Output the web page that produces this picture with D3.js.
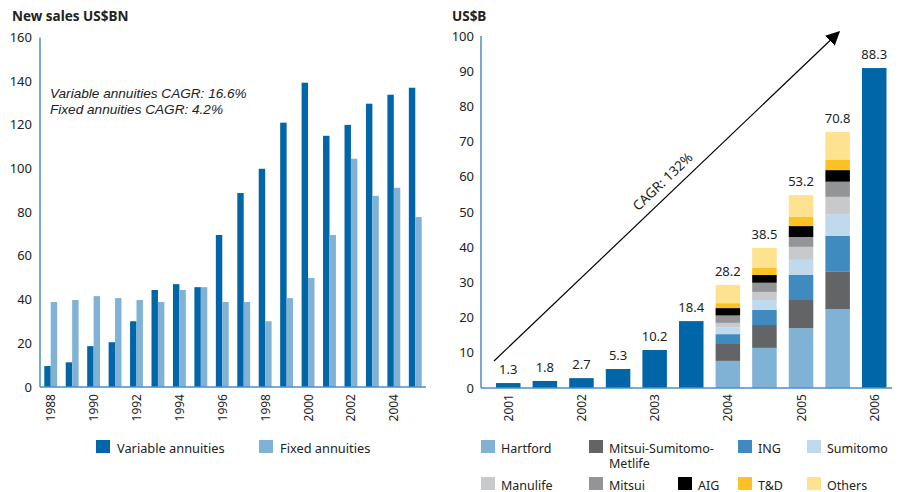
<!DOCTYPE html>
<html>
<head>
<script src="https://cdnjs.cloudflare.com/ajax/libs/d3/7.8.5/d3.min.js"></script>
<style>
  body { margin: 0; background: #fff; }
  text { font-family: "Noto Sans", "Open Sans", sans-serif; fill: #222; }
  text.note { font-family: "Liberation Sans", Arial, sans-serif; font-style: italic; }
</style>
</head>
<body>
<div id="chart"></div>
<script>
// ---- left chart data (US$BN) ----
const years = d3.range(1988, 2006).map(String);
const variableSales = [9.6, 11.3, 18.7, 20.5, 30.1, 44.4, 47.1, 45.7, 69.6, 88.8, 99.9, 121, 139.3, 115, 120, 129.7, 133.8, 137];
const fixedSales = [38.9, 39.8, 41.6, 40.7, 39.8, 38.9, 44.4, 45.7, 38.9, 38.9, 30.1, 40.7, 49.9, 69.6, 104.5, 87.5, 91.2, 77.8];
const leftTicks = [0, 20, 40, 60, 80, 100, 120, 140, 160];

// ---- right chart data (US$B), half-year periods ----
const periods = ["2001", "2001H2", "2002", "2002H2", "2003", "2003H2", "2004", "2004H2", "2005", "2005H2", "2006"];
const periodLabels = ["2001", "", "2002", "", "2003", "", "2004", "", "2005", "", "2006"];
const totals = [1.4, 2.0, 2.8, 5.4, 10.8, 19.0, null, null, null, null, 90.9];
const totalLabels = ["1.3", "1.8", "2.7", "5.3", "10.2", "18.4", "28.2", "38.5", "53.2", "70.8", "88.3"];
const companies = ["Hartford", "Mitsui-Sumitomo-Metlife", "ING", "Sumitomo", "Manulife", "Mitsui", "AIG", "T&D", "Others"];
const companyColors = ["#7fb2d5", "#636466", "#3f8bbf", "#c0d9ec", "#c8c9cb", "#929497", "#000000", "#fcc125", "#fde28f"];
// segments per stacked period, in company order
const stackPeriods = ["2004", "2004H2", "2005", "2005H2"];
const hartford = [7.7, 11.4, 17.0, 22.4];
const msm = [4.8, 6.5, 8.0, 10.6];
const ing = [2.8, 4.3, 7.1, 10.2];
const sumitomo = [1.9, 2.8, 4.3, 6.2];
const manulife = [1.3, 2.3, 3.7, 4.9];
const mitsui = [2.1, 2.6, 2.8, 4.3];
const aig = [2.1, 2.2, 3.1, 3.3];
const td = [1.4, 2.0, 2.6, 2.9];
const others = [5.2, 5.7, 6.2, 7.9];
const rightTicks = [0, 10, 20, 30, 40, 50, 60, 70, 80, 90, 100];

const dark = "#0066a8", light = "#7fb2d5", axisColor = "#4b8fc6";

const svg = d3.select("#chart").append("svg")
  .attr("width", 902).attr("height", 492);

// ================= LEFT CHART =================
const lx = d3.scaleBand().domain(years).range([40, 426]).paddingInner(0.4).paddingOuter(0.2);
const ly = d3.scaleLinear().domain([0, 160]).range([387, 37.5]);
const left = svg.append("g");

left.append("text").attr("x", 12).attr("y", 21)
  .attr("font-size", 13.5).attr("font-weight", "bold").text("New sales US$BN");

left.selectAll(".ytick").data(leftTicks).join("text")
  .attr("x", 32).attr("y", d => ly(d) + 4.5)
  .attr("text-anchor", "end").attr("font-size", 13).text(d => d);

const pairW = lx.bandwidth() / 2;
left.selectAll(".var").data(years).join("rect")
  .attr("x", d => lx(d)).attr("width", pairW)
  .attr("y", (d, i) => ly(variableSales[i]))
  .attr("height", (d, i) => ly(0) - ly(variableSales[i]))
  .attr("fill", dark);
left.selectAll(".fix").data(years).join("rect")
  .attr("x", d => lx(d) + pairW).attr("width", pairW)
  .attr("y", (d, i) => ly(fixedSales[i]))
  .attr("height", (d, i) => ly(0) - ly(fixedSales[i]))
  .attr("fill", light);

left.append("line").attr("x1", 40).attr("x2", 40).attr("y1", 37.5).attr("y2", 387)
  .attr("stroke", axisColor).attr("stroke-width", 1.5);
left.append("line").attr("x1", 40).attr("x2", 426).attr("y1", 387).attr("y2", 387)
  .attr("stroke", axisColor).attr("stroke-width", 1.5);

left.selectAll(".xl").data(years.filter((d, i) => i % 2 === 0)).join("text")
  .attr("transform", d => `translate(${lx(d) + lx.bandwidth() / 2 + 4.5},394) rotate(-90)`)
  .attr("text-anchor", "end").attr("font-size", 12).text(d => d);

left.append("text").attr("class", "note").attr("x", 50).attr("y", 97.5).attr("font-size", 13.6)
  .text("Variable annuities CAGR: 16.6%");
left.append("text").attr("class", "note").attr("x", 50).attr("y", 113.5).attr("font-size", 13.6)
  .text("Fixed annuities CAGR: 4.2%");

// left legend
[["Variable annuities", dark, 96], ["Fixed annuities", light, 259]].forEach(([t, c, x]) => {
  left.append("rect").attr("x", x).attr("y", 440).attr("width", 14).attr("height", 13).attr("fill", c);
  left.append("text").attr("x", x + 21).attr("y", 452.5).attr("font-size", 12.8).text(t);
});

// ================= RIGHT CHART =================
const rx = d3.scaleBand().domain(periods).range([481, 901.5]).paddingInner(0.33).paddingOuter(0.41);
const ry = d3.scaleLinear().domain([0, 100]).range([388, 36]);
const right = svg.append("g");

right.append("text").attr("x", 452).attr("y", 21)
  .attr("font-size", 13.5).attr("font-weight", "bold").text("US$B");

right.selectAll(".ytick").data(rightTicks).join("text")
  .attr("x", 474).attr("y", d => ry(d) + 4.5)
  .attr("text-anchor", "end").attr("font-size", 13).text(d => d);

// single bars
const singles = periods.map((p, i) => ({ p, v: totals[i] })).filter(d => d.v !== null);
right.selectAll(".single").data(singles).join("rect")
  .attr("x", d => rx(d.p)).attr("width", rx.bandwidth())
  .attr("y", d => ry(d.v)).attr("height", d => ry(0) - ry(d.v))
  .attr("fill", dark);

// stacked bars
const segs = [hartford, msm, ing, sumitomo, manulife, mitsui, aig, td, others];
const stackRows = stackPeriods.map((p, j) => {
  const row = { p };
  companies.forEach((c, k) => { row[c] = segs[k][j]; });
  return row;
});
const series = d3.stack().keys(companies)(stackRows);
right.selectAll(".layer").data(series).join("g")
  .attr("fill", (d, k) => companyColors[k])
  .selectAll("rect").data(d => d).join("rect")
  .attr("x", d => rx(d.data.p)).attr("width", rx.bandwidth())
  .attr("y", d => ry(d[1])).attr("height", d => ry(d[0]) - ry(d[1]));

// total labels
const topOf = periods.map((p, i) => {
  const j = stackPeriods.indexOf(p);
  return j >= 0 ? d3.sum(segs, s => s[j]) : totals[i];
});
right.selectAll(".tot").data(periods).join("text")
  .attr("x", d => rx(d) + rx.bandwidth() / 2)
  .attr("y", (d, i) => ry(topOf[i]) - 9)
  .attr("text-anchor", "middle").attr("font-size", 13)
  .text((d, i) => totalLabels[i]);

right.append("line").attr("x1", 481).attr("x2", 481).attr("y1", 36).attr("y2", 388)
  .attr("stroke", axisColor).attr("stroke-width", 1.5);
right.append("line").attr("x1", 481).attr("x2", 892).attr("y1", 388).attr("y2", 388)
  .attr("stroke", axisColor).attr("stroke-width", 1.5);

right.selectAll(".xl").data(periods.filter((d, i) => periodLabels[i])).join("text")
  .attr("transform", d => `translate(${rx(d) + rx.bandwidth() / 2 + 4.5},394) rotate(-90)`)
  .attr("text-anchor", "end").attr("font-size", 12).text(d => d);

// CAGR arrow
svg.append("defs").append("marker").attr("id", "head")
  .attr("viewBox", "0 0 10 10").attr("refX", 9).attr("refY", 5)
  .attr("markerWidth", 14).attr("markerHeight", 14).attr("markerUnits", "userSpaceOnUse")
  .attr("orient", "auto")
  .append("path").attr("d", "M0,0 L10,5 L0,10 Z").attr("fill", "#000");
const a0 = [494, 361], a1 = [839, 32];
right.append("line").attr("x1", a0[0]).attr("y1", a0[1]).attr("x2", a1[0]).attr("y2", a1[1])
  .attr("stroke", "#000").attr("stroke-width", 1.2).attr("marker-end", "url(#head)");
const ang = Math.atan2(a1[1] - a0[1], a1[0] - a0[0]) * 180 / Math.PI;
right.append("text").attr("transform", `translate(666,185) rotate(${ang})`)
  .attr("text-anchor", "middle").attr("font-size", 13.5).text("CAGR: 132%");

// right legend
const legendPos = [
  [481, 440], [589, 440], [738, 440], [807, 440],
  [481, 477], [589, 477], [678, 477], [738, 477], [807, 477]
];
companies.forEach((c, k) => {
  const [x, y] = legendPos[k];
  right.append("rect").attr("x", x).attr("y", y).attr("width", 14).attr("height", 13).attr("fill", companyColors[k]);
  if (c === "Mitsui-Sumitomo-Metlife") {
    right.append("text").attr("x", x + 20).attr("y", y + 12.5).attr("font-size", 12.5).text("Mitsui-Sumitomo-");
    right.append("text").attr("x", x + 20).attr("y", y + 28).attr("font-size", 12.5).text("Metlife");
  } else {
    right.append("text").attr("x", x + 20).attr("y", y + 12.5).attr("font-size", 12.5).text(c);
  }
});
</script>
</body>
</html>
